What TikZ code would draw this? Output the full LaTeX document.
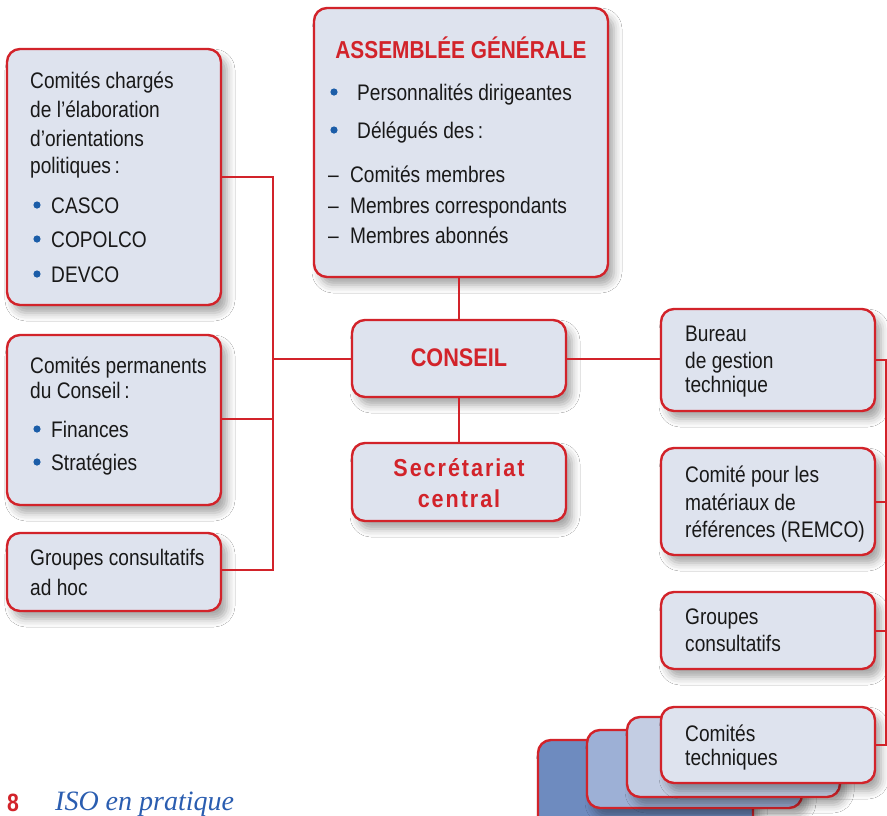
\documentclass[tikz,border=0pt]{standalone}
\usepackage{fontspec}
\setmainfont[FakeStretch=0.85]{Liberation Sans}
\newfontfamily\spacedfont[FakeStretch=0.88,LetterSpace=8]{Liberation Sans}
\newfontfamily\handfont{Liberation Serif}
\usetikzlibrary{shadows.blur}
\definecolor{isored}{HTML}{D2232A}
\definecolor{boxfill}{HTML}{DEE3EE}
\definecolor{bulletblue}{HTML}{1B5DA8}
\definecolor{stackA}{HTML}{C3CDE3}
\definecolor{stackB}{HTML}{9DB0D6}
\definecolor{stackC}{HTML}{6E8BBF}
\definecolor{logoblue}{HTML}{2A5DB0}
\tikzset{
  orgbox/.style={draw=isored, line width=2.4pt, fill=boxfill, rounded corners=13pt,
    inner sep=0pt, minimum width=214pt,
    blur shadow={shadow xshift=6pt, shadow yshift=-8pt, shadow blur radius=8pt, shadow opacity=35}},
  link/.style={draw=isored, line width=2pt},
  txt/.style={anchor=base west, inner sep=0pt, font=\fontsize{22.5}{26}\selectfont, text=black!90},
  head/.style={anchor=base, inner sep=0pt, text=isored, font=\bfseries\fontsize{24.5}{28}\selectfont},
  dot/.style={fill=bulletblue}
}
\begin{document}
\begin{tikzpicture}[x=1pt,y=-1pt]
\useasboundingbox (0,0) rectangle (887,815);
\clip (0,0) rectangle (887,815);
\fill[white] (0,0) rectangle (887,815);

% connectors
\coordinate (lb1) at (273,177);
\coordinate (lb2) at (273,419);
\coordinate (lb3) at (273,358.5);
\coordinate (lb4) at (273,570);
\coordinate (rb1) at (886,360);
\coordinate (rb2) at (886,502);
\coordinate (rb3) at (886,630.5);
\coordinate (rb4) at (886,745);

% boxes
\node[orgbox, minimum width=294pt, minimum height=269pt] (ag) at (461,142.5) {};
\node[orgbox, minimum height=256pt] (pol) at (114,177) {};
\node[orgbox, minimum height=170pt] (perm) at (114,420) {};
\node[orgbox, minimum height=78pt] (adhoc) at (114,572) {};
\node[orgbox, minimum height=77pt] (conseil) at (459,358.5) {};
\node[orgbox, minimum height=78pt] (secr) at (459,482) {};
\node[orgbox, minimum height=102pt] (bureau) at (768,360) {};
\node[orgbox, minimum height=107pt] (remco) at (768,501.5) {};
\node[orgbox, minimum height=77pt] (grpc) at (768,630.5) {};
\node[orgbox, fill=stackC, minimum width=215pt, minimum height=90pt] (st4) at (645.5,785) {};
\node[orgbox, fill=stackB, minimum width=215pt, minimum height=78pt] (st3) at (694.5,769) {};
\node[orgbox, fill=stackA, minimum width=213pt, minimum height=80pt] (st2) at (733.5,757) {};
\node[orgbox, minimum height=76pt] (ct) at (768,745) {};

\draw[link] (pol.east |- lb1) -- (lb1) -- (lb4) -- (adhoc.east |- lb4);
\draw[link] (perm.east |- lb2) -- (lb2);
\draw[link] (conseil.west) -- (lb3);
\draw[link] (conseil.north) -- (conseil.north |- ag.south);
\draw[link] (secr.north) -- (conseil.south);
\draw[link] (conseil.east) -- (bureau.west |- conseil.east);
\draw[link] (bureau.east) -- (rb1) -- (rb4) -- (ct.east);
\draw[link] (remco.east |- rb2) -- (rb2);
\draw[link] (grpc.east) -- (rb3);

% Assemblée générale
\node[head] (agt) at (461,58) {ASSEMBLÉE GÉNÉRALE};
\fill[dot] (334,92) circle (3.6);
\fill[dot] (334,130) circle (3.6);
\node[txt] (ag1) at (357,100) {Personnalités dirigeantes};
\node[txt] (ag2) at (357,138) {Délégués des\,:};
\node[txt] (ag3) at (328,182) {–\hspace{0.5em}Comités membres};
\node[txt] (ag4) at (328,213) {–\hspace{0.5em}Membres correspondants};
\node[txt] (ag5) at (328,243) {–\hspace{0.5em}Membres abonnés};

% left box 1
\node[txt] (p1) at (30,88) {Comités chargés};
\node[txt] (p2) at (30,117) {de l’élaboration};
\node[txt] (p3) at (30,146) {d’orientations};
\node[txt] (p4) at (30,173) {politiques\,:};
\fill[dot] (37,205) circle (3.6);
\fill[dot] (37,239) circle (3.6);
\fill[dot] (37,274) circle (3.6);
\node[txt] (p5) at (51,213) {CASCO};
\node[txt] (p6) at (51,247) {COPOLCO};
\node[txt] (p7) at (51,282) {DEVCO};

% left box 2
\node[txt] (q1) at (30,373) {Comités permanents};
\node[txt] (q2) at (30,398) {du Conseil\,:};
\fill[dot] (37,429) circle (3.6);
\fill[dot] (37,462) circle (3.6);
\node[txt] (q3) at (51,437) {Finances};
\node[txt] (q4) at (51,470) {Stratégies};

% left box 3
\node[txt] (r1) at (30,565) {Groupes consultatifs};
\node[txt] (r2) at (30,595) {ad hoc};

% conseil / secretariat
\node[head, font=\bfseries\fontsize{25.5}{28}\selectfont] (ct1) at (459,366) {CONSEIL};
\node[head, font=\spacedfont\bfseries\fontsize{24.5}{28}\selectfont] (s1) at (459,476) {Secrétariat};
\node[head, font=\spacedfont\bfseries\fontsize{24.5}{28}\selectfont] (s2) at (459,507) {central};

% right boxes
\node[txt] (b1) at (685,341) {Bureau};
\node[txt] (b2) at (685,368) {de gestion};
\node[txt] (b3) at (685,392) {technique};
\node[txt] (m1) at (685,482) {Comité pour les};
\node[txt] (m2) at (685,510) {matériaux de};
\node[txt] (m3) at (685,537) {références (REMCO)};
\node[txt] (g1) at (685,624) {Groupes};
\node[txt] (g2) at (685,651) {consultatifs};
\node[txt] (c1) at (685,741) {Comités};
\node[txt] (c2) at (685,765) {techniques};

% logo
\node[anchor=base west, inner sep=0pt, text=isored, font=\bfseries\fontsize{25}{26}\selectfont] (pg) at (7,811) {8};
\node[anchor=base west, inner sep=0pt, text=logoblue, font=\handfont\itshape\fontsize{28}{28}\selectfont] (logo) at (55,810) {ISO en pratique};
\end{tikzpicture}
\end{document}
